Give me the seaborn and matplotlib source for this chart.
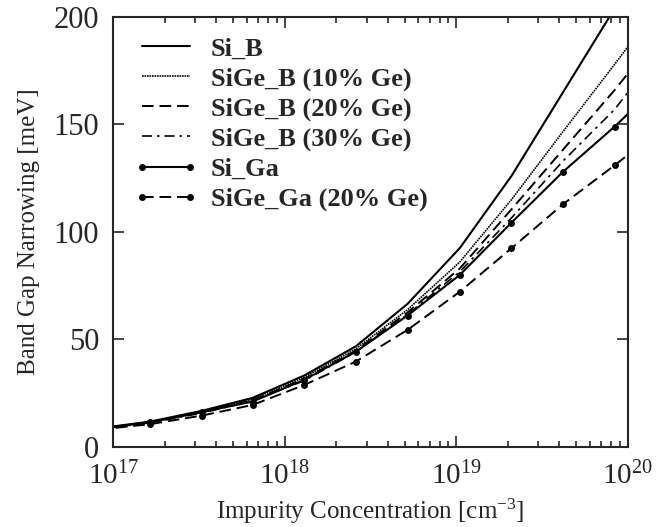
import numpy as np
import pandas as pd
import seaborn as sns
import matplotlib
matplotlib.use('Agg')
import matplotlib.pyplot as plt
from matplotlib.ticker import LogLocator, NullFormatter

# concentraciones [cm^-3] (puntos de la malla, el primero y el ultimo quedan fuera del eje)
conc = [8.2e16, 1.65e17, 3.3e17, 6.5e17, 1.3e18, 2.6e18, 5.2e18,
        1.05e19, 2.1e19, 4.2e19, 8.4e19, 1.68e20]

# band gap narrowing [meV]
si_b = [8.6, 11.8, 16.8, 22.8, 33.2, 46.8, 66.5, 92.5, 126.0, 165.0, 204.0, 245.0]
sige_b10 = [8.5, 11.6, 16.4, 22.2, 32.3, 45.6, 63.8, 86.0, 115.0, 146.7, 178.0, 210.0]
sige_b20 = [8.4, 11.4, 16.1, 21.7, 31.5, 44.8, 62.5, 83.0, 110.5, 138.3, 166.0, 196.0]
sige_b30 = [8.3, 11.2, 15.8, 21.4, 30.8, 44.2, 61.6, 81.5, 106.5, 133.0, 157.0, 188.0]
si_ga = [8.4, 11.5, 16.2, 21.1, 31.2, 44.3, 61.1, 80.0, 104.3, 128.0, 149.0, 172.0]
sige_ga = [8.0, 10.6, 14.6, 19.5, 28.8, 39.7, 54.4, 72.2, 92.4, 112.9, 131.0, 150.0]

sns.set_style('ticks')
plt.rcParams['font.family'] = ['Liberation Serif', 'DejaVu Serif']
plt.rcParams['mathtext.fontset'] = 'custom'
plt.rcParams['mathtext.rm'] = 'Liberation Serif'
plt.rcParams['mathtext.it'] = 'Liberation Serif:italic'
plt.rcParams['legend.numpoints'] = 2

fig = plt.figure(figsize=(6.58, 5.27), dpi=100)
ax = fig.add_axes([0.172, 0.152, 0.782, 0.816])

series = [
    ('Si_B', si_b, dict(linestyle='-', linewidth=1.5)),
    ('SiGe_B (10% Ge)', sige_b10, dict(linestyle=(0, (1, 0.5)), linewidth=1.2)),
    ('SiGe_B (20% Ge)', sige_b20, dict(linestyle=(0, (6, 3)), linewidth=1.4)),
    ('SiGe_B (30% Ge)', sige_b30, dict(linestyle=(0, (6, 3, 1.5, 3)), linewidth=1.2)),
    ('Si_Ga', si_ga, dict(linestyle='-', linewidth=1.5, marker='o', markersize=5)),
    ('SiGe_Ga (20% Ge)', sige_ga, dict(linestyle=(0, (6, 3)), linewidth=1.4, marker='o', markersize=5)),
]

for name, vals, kw in series:
    df = pd.DataFrame({'conc': conc, 'bgn': vals})
    sns.lineplot(data=df, x='conc', y='bgn', ax=ax, color='black', label=name,
                 markeredgewidth=0, **kw)

ax.set_xscale('log')
ax.set_xlim(1e17, 1e20)
ax.set_ylim(0, 200)
ax.set_yticks([0, 50, 100, 150, 200])
ax.xaxis.set_major_locator(LogLocator(base=10, numticks=10))
ax.xaxis.set_minor_locator(LogLocator(base=10, subs=np.arange(2, 10), numticks=10))
ax.xaxis.set_minor_formatter(NullFormatter())

ax.tick_params(which='both', direction='in', top=True, right=True, labelsize=21, width=1.2)
ax.tick_params(which='major', length=8)
ax.tick_params(which='minor', length=4)
ax.tick_params(axis='x', which='major', pad=11)
ax.tick_params(axis='y', which='major', pad=10, labelsize=22)
for sp in ax.spines.values():
    sp.set_linewidth(1.5)

ax.set_xlabel('Impurity Concentration [cm$^{-3}$]', fontsize=18, labelpad=4)
ax.set_ylabel('Band Gap Narrowing [meV]', fontsize=18, labelpad=10)

leg = ax.legend(loc='upper left', bbox_to_anchor=(0.01, 0.99), frameon=False,
                prop={'weight': 'bold', 'size': 19}, handlelength=2.4,
                handletextpad=0.5, labelspacing=0.24, borderaxespad=0.2)

fig.savefig('out.png', dpi=100)
